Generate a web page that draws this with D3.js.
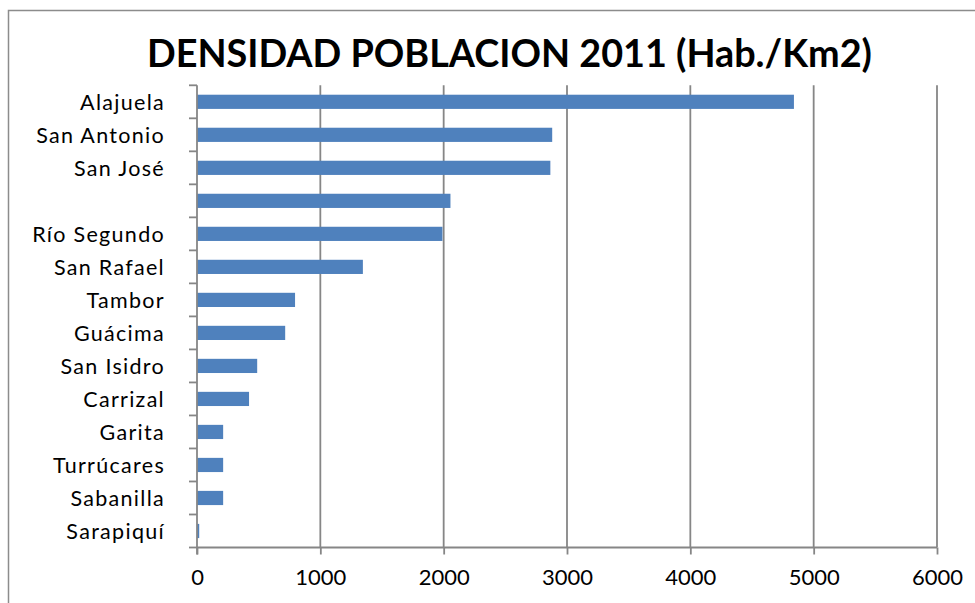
<!DOCTYPE html>
<html>
<head>
<meta charset="utf-8">
<script src="https://cdn.jsdelivr.net/npm/d3@7"></script>
<style>
  html, body { margin: 0; padding: 0; background: #fff; }
  svg { display: block; }
</style>
</head>
<body>
<svg id="chart" width="975" height="603"></svg>
<script>
const title = "DENSIDAD POBLACION 2011 (Hab./Km2)";
const categories = ["Alajuela", "San Antonio", "San José", "", "Río Segundo", "San Rafael", "Tambor", "Guácima", "San Isidro", "Carrizal", "Garita", "Turrúcares", "Sabanilla", "Sarapiquí"];
const values = [4840, 2880, 2865, 2055, 1990, 1345, 795, 715, 488, 422, 212, 212, 212, 18];
const xTicks = [0, 1000, 2000, 3000, 4000, 5000, 6000];

const svg = d3.select("#chart");
const W = 975, H = 603;
const plot = { left: 197, right: 937, top: 85.3, bottom: 547.5 };
const gridColor = "#868686";
const barColor = "#4F81BD";
const font = "Lato, 'Open Sans', sans-serif";

// chart border
svg.append("rect")
  .attr("x", 8.5).attr("y", 10.5)
  .attr("width", W).attr("height", H)
  .attr("fill", "#fff").attr("stroke", "#8c8c8c").attr("stroke-width", 1.5);

// title
svg.append("text")
  .attr("x", 147).attr("y", 66.5)
  .attr("textLength", 725).attr("lengthAdjust", "spacingAndGlyphs")
  .style("font-family", font).style("font-weight", "bold").style("font-size", "39px")
  .attr("fill", "#000")
  .text(title);

const x = d3.scaleLinear().domain([0, 6000]).range([plot.left, plot.right]);
const idx = d3.range(categories.length);
const y = d3.scaleBand().domain(idx).range([plot.top, plot.bottom]).paddingInner(0.57).paddingOuter(0.285);
const yOuter = d3.scaleBand().domain(idx).range([plot.top, plot.bottom]);

// gridlines
svg.append("g").selectAll("line").data(xTicks.slice(1)).join("line")
  .attr("x1", d => x(d)).attr("x2", d => x(d))
  .attr("y1", plot.top).attr("y2", plot.bottom)
  .attr("stroke", gridColor).attr("stroke-width", 1.8);

// bars
svg.append("g").selectAll("rect").data(values).join("rect")
  .attr("x", x(0))
  .attr("y", (d, i) => y(i))
  .attr("width", d => x(d) - x(0))
  .attr("height", y.bandwidth())
  .attr("fill", barColor);

// x axis
const xAxis = d3.axisBottom(x).tickValues(xTicks).tickSize(7).tickPadding(15).tickFormat(d3.format("d"));
const gx = svg.append("g").attr("transform", `translate(0,${plot.bottom})`).call(xAxis);
gx.select(".domain").attr("stroke", gridColor).attr("stroke-width", 1.8).attr("d", `M${plot.left},0H${plot.right}`);
gx.selectAll(".tick line").attr("stroke", gridColor).attr("stroke-width", 1.8);
gx.selectAll(".tick text").style("font-family", font).style("font-size", "22px").attr("fill", "#000");

// y axis: ticks at category boundaries
const gy = svg.append("g");
gy.append("line")
  .attr("x1", plot.left).attr("x2", plot.left)
  .attr("y1", plot.top).attr("y2", plot.bottom + 7)
  .attr("stroke", gridColor).attr("stroke-width", 1.8);
const bounds = d3.range(categories.length + 1).map(i => i < categories.length ? yOuter(i) : plot.bottom);
gy.selectAll("line.tk").data(bounds).join("line").attr("class", "tk")
  .attr("x1", plot.left - 8).attr("x2", plot.left)
  .attr("y1", d => d).attr("y2", d => d)
  .attr("stroke", gridColor).attr("stroke-width", 1.8);
gy.selectAll("text").data(categories).join("text")
  .attr("x", 165)
  .attr("y", (d, i) => yOuter(i) + yOuter.bandwidth() / 2)
  .attr("dy", "0.36em")
  .attr("text-anchor", "end")
  .style("font-family", font).style("font-size", "21.5px").style("letter-spacing", "1.3px")
  .attr("fill", "#000")
  .text(d => d);
</script>
</body>
</html>
